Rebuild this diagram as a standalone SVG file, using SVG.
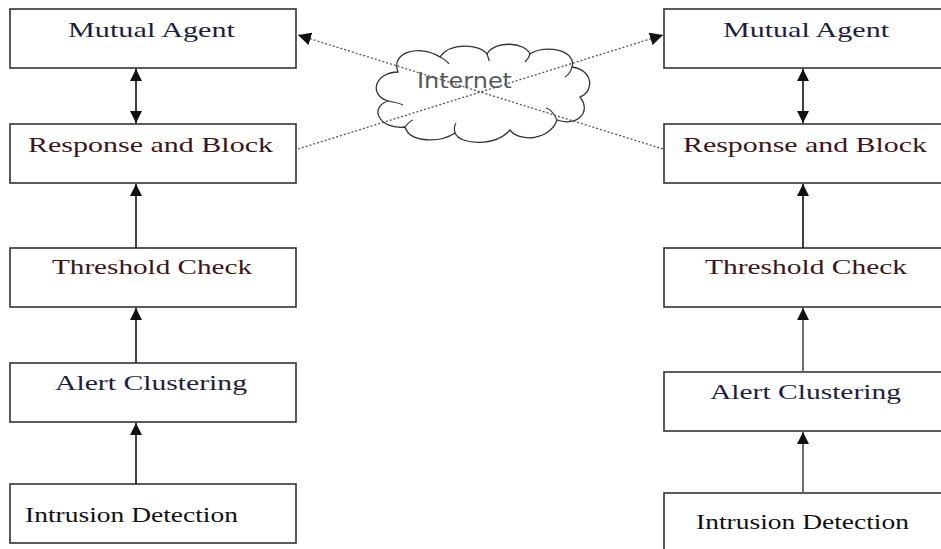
<svg xmlns="http://www.w3.org/2000/svg" width="941" height="549" viewBox="0 0 941 549">
<style>
.box{fill:#fff;stroke:#333;stroke-width:1.6}
.lbl{font-family:"Liberation Serif","Times New Roman",serif;font-size:22px}
.navy{fill:#1e1e3c}
.maroon{fill:#3c1616}
.blk{fill:#111}
.arr{stroke:#111;stroke-width:1.6;fill:none}
.arrg{stroke:#6e6e6e;stroke-width:2;fill:none}
.dot{stroke:#555;stroke-width:1.3;stroke-dasharray:2 2;fill:none}
</style>
<defs>
<marker id="ah" viewBox="0 0 10 10" refX="10" refY="5" markerWidth="12" markerHeight="12" markerUnits="userSpaceOnUse" orient="auto-start-reverse">
<path d="M0,0 L10,5 L0,10 Z" fill="#111"/>
</marker>
<marker id="ahd" viewBox="0 0 10 10" refX="10" refY="5" markerWidth="13" markerHeight="13" markerUnits="userSpaceOnUse" orient="auto">
<path d="M0,0 L10,5 L0,10 Z" fill="#111"/>
</marker>
</defs>
<rect width="941" height="549" fill="#fff"/>

<g id="cloud">
<path d="M398,72 C390,52 420,44 440,57 C450,42 480,44 487,54 C495,40 525,42 530,54 C545,44 577,50 572,67 C594,70 594,92 580,97 C592,112 577,127 557,120 C550,140 520,143 510,130 C495,147 460,145 455,133 C440,143 410,143 405,127 C380,130 368,108 388,101 C368,95 375,72 398,72 Z" fill="#fff" stroke="#333" stroke-width="1.3"/>
<path d="M388,101 C394,102 399,103 403,105 M405,127 C408,123 410,121 413,120 M455,133 C454,129 454,126 456,123 M557,120 C554,113 550,109 546,108 M572,67 C571,72 568,75 565,77 M530,54 C529,58 527,60 525,62 M487,54 C488,57 489,59 489,61 M440,57 C444,59 447,61 449,64" fill="none" stroke="#333" stroke-width="1.2"/>
<text x="417" y="88" font-family="DejaVu Sans, sans-serif" font-size="21" fill="#5a5a5a" textLength="95" lengthAdjust="spacingAndGlyphs">Internet</text>
</g>

<g id="left-mutual">
<rect class="box" x="10" y="9" width="286" height="59"/>
<text class="lbl navy" x="68" y="37" textLength="167" lengthAdjust="spacingAndGlyphs">Mutual Agent</text>
</g>
<g id="left-response">
<rect class="box" x="10" y="124" width="286" height="59"/>
<text class="lbl maroon" x="28" y="152" textLength="245" lengthAdjust="spacingAndGlyphs">Response and Block</text>
</g>
<g id="left-threshold">
<rect class="box" x="10" y="248" width="286" height="59"/>
<text class="lbl maroon" x="52" y="274" textLength="200" lengthAdjust="spacingAndGlyphs">Threshold Check</text>
</g>
<g id="left-alert">
<rect class="box" x="10" y="363" width="286" height="59"/>
<text class="lbl navy" x="55" y="390" textLength="192" lengthAdjust="spacingAndGlyphs">Alert Clustering</text>
</g>
<g id="left-intrusion">
<rect class="box" x="10" y="484" width="286" height="59"/>
<text class="lbl blk" x="25" y="522" textLength="213" lengthAdjust="spacingAndGlyphs">Intrusion Detection</text>
</g>

<g id="right-mutual">
<rect class="box" x="664" y="9" width="290" height="59"/>
<text class="lbl navy" x="723" y="37" textLength="166" lengthAdjust="spacingAndGlyphs">Mutual Agent</text>
</g>
<g id="right-response">
<rect class="box" x="664" y="124" width="290" height="59"/>
<text class="lbl maroon" x="683" y="152" textLength="244" lengthAdjust="spacingAndGlyphs">Response and Block</text>
</g>
<g id="right-threshold">
<rect class="box" x="664" y="248" width="290" height="59"/>
<text class="lbl maroon" x="705" y="274" textLength="202" lengthAdjust="spacingAndGlyphs">Threshold Check</text>
</g>
<g id="right-alert">
<rect class="box" x="664" y="372" width="290" height="59"/>
<text class="lbl navy" x="710" y="399" textLength="191" lengthAdjust="spacingAndGlyphs">Alert Clustering</text>
</g>
<g id="right-intrusion">
<rect class="box" x="664" y="493" width="290" height="70"/>
<text class="lbl blk" x="696" y="529" textLength="213" lengthAdjust="spacingAndGlyphs">Intrusion Detection</text>
</g>

<g id="connectors">
<line class="arr" x1="136" y1="69" x2="136" y2="123" marker-start="url(#ah)" marker-end="url(#ah)"/>
<line class="arr" x1="136" y1="248" x2="136" y2="184" marker-end="url(#ah)"/>
<line class="arr" x1="136" y1="363" x2="136" y2="308" marker-end="url(#ah)"/>
<line class="arr" x1="136" y1="484" x2="136" y2="423" marker-end="url(#ah)"/>

<line class="arr" x1="803" y1="69" x2="803" y2="123" marker-start="url(#ah)" marker-end="url(#ah)"/>
<line class="arr" x1="803" y1="248" x2="803" y2="184" marker-end="url(#ah)"/>
<line class="arrg" x1="803" y1="372" x2="803" y2="308" marker-end="url(#ah)"/>
<line class="arrg" x1="803" y1="493" x2="803" y2="432" marker-end="url(#ah)"/>

<line class="dot" x1="298" y1="149" x2="663" y2="35" marker-end="url(#ahd)"/>
<line class="dot" x1="663" y1="149" x2="298" y2="35" marker-end="url(#ahd)"/>
</g>
</svg>
